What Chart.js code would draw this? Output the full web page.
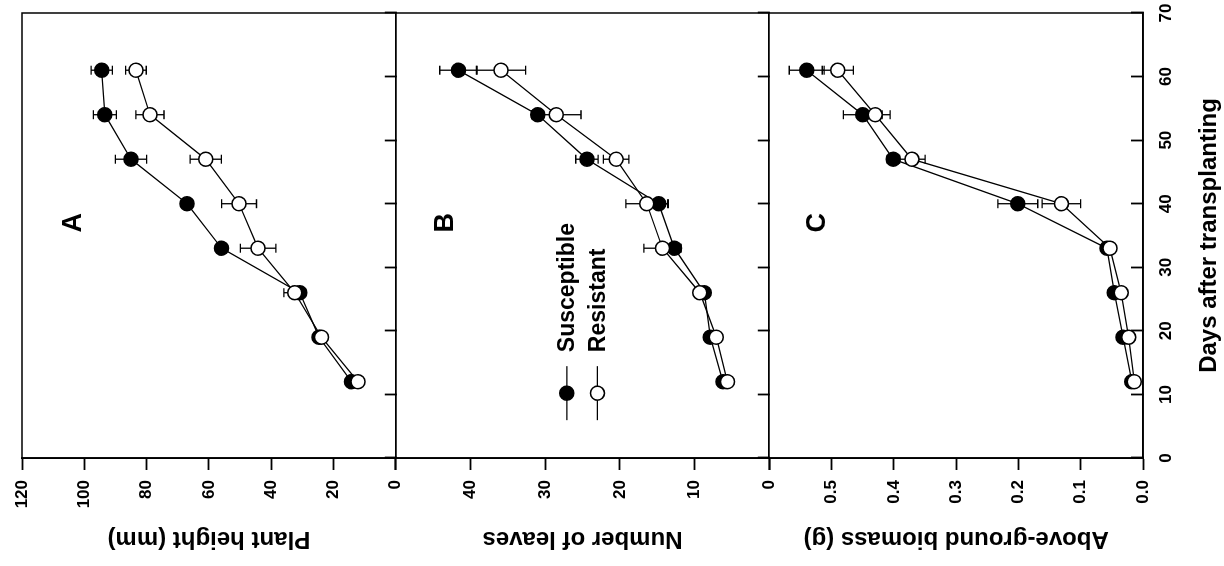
<!DOCTYPE html>
<html>
<head>
<meta charset="utf-8">
<script src="https://cdn.jsdelivr.net/npm/chart.js@4.4.0/dist/chart.umd.min.js"></script>
<style>
  html, body { margin: 0; padding: 0; overflow: hidden; background: #fff; width: 1224px; height: 566px; }
  /* the figure is drawn upright (portrait) and then turned a quarter to the left */
  #wrap { position: absolute; left: 0; top: 0; width: 566px; height: 1224px;
          transform-origin: 0 0; transform: translateY(566px) rotate(-90deg); }
  canvas { display: block; }
</style>
</head>
<body>
<div id="wrap"><canvas id="growthChart" width="566" height="1224"></canvas></div>
<script>
// Days after transplanting (sampling dates)
const days = [12, 19, 26, 33, 40, 47, 54, 61];

// Panel A - plant height (mm)
const heightSusceptible = [14.2, 24.6, 30.8, 55.9, 67.0, 85.0, 93.4, 94.4];
const heightResistant = [12.1, 23.8, 32.4, 44.2, 50.3, 61.0, 78.9, 83.4];
const heightSusceptibleErr = [0.8, 0.8, 1.2, 1.5, 1.8, 5.0, 3.7, 3.4];
const heightResistantErr = [1.0, 1.0, 3.5, 5.7, 5.6, 5.0, 4.5, 3.3];

// Panel B - number of leaves
const leavesSusceptible = [6.2, 7.9, 8.7, 12.7, 14.8, 24.4, 31.0, 41.6];
const leavesResistant = [5.6, 7.1, 9.3, 14.3, 16.4, 20.5, 28.5, 35.9];
const leavesSusceptibleErr = [0.4, 0.4, 0.5, 0.8, 1.3, 1.5, 0.8, 2.5];
const leavesResistantErr = [0.4, 0.4, 0.5, 2.5, 2.8, 1.7, 3.3, 3.3];

// Panel C - above-ground biomass (g)
const biomassSusceptible = [0.018, 0.032, 0.046, 0.058, 0.201, 0.401, 0.450, 0.540];
const biomassResistant = [0.014, 0.023, 0.035, 0.053, 0.131, 0.371, 0.430, 0.490];
const biomassSusceptibleErr = [0.004, 0.004, 0.004, 0.005, 0.032, 0.010, 0.031, 0.028];
const biomassResistantErr = [0.004, 0.004, 0.004, 0.005, 0.031, 0.021, 0.024, 0.025];

const seriesNames = ['Susceptible', 'Resistant'];
const panelLetters = ['A', 'B', 'C'];
const dayTicks = [0, 70, 10];   // min, max, step
const heightTicks = [0, 120, 20];
const leavesTicks = [0, 50, 10];
const biomassTicks = [0, 0.6, 0.1];

Chart.defaults.font.family = '"Liberation Sans", Arial, Helvetica, sans-serif';
Chart.defaults.font.weight = 'bold';
Chart.defaults.color = '#000';

const tickFont = { size: 17, weight: 'bold' };
const titleFont = { size: 24, weight: 'bold' };

function series(label, values, errors, yAxisID, filled) {
    return {
        label: label,
        yAxisID: yAxisID,
        xAxisID: 'x',
        data: days.map((d, i) => ({ x: d, y: values[i] })),
        errors: errors,
        borderColor: '#000',
        borderWidth: 1.3,
        pointRadius: 7,
        pointHoverRadius: 7,
        pointBorderWidth: 1.5,
        pointBackgroundColor: filled ? '#000' : '#fff',
        pointBorderColor: '#000',
        fill: false,
        tension: 0,
        clip: false
    };
}

// value axis of one panel; the top label of B and C is left blank like in the figure
function valueAxis(range, title, digits, hideTop) {
    const [min, max, step] = range;
    return {
        type: 'linear',
        position: 'left',
        stack: 'panels',
        stackWeight: 1,
        min: min,
        max: max,
        ticks: {
            stepSize: step,
            autoSkip: false,
            padding: 10,
            font: tickFont,
            color: '#000',
            callback: v => (hideTop && v > max - step / 2) ? '' : v.toFixed(digits)
        },
        grid: { drawOnChartArea: false, tickLength: 12, tickWidth: 1.8, tickColor: '#000' },
        border: { display: true, color: '#000', width: 1.8 },
        title: { display: true, text: title, font: titleFont, color: '#000', padding: { top: 13, bottom: 0 } },
        afterFit: s => { s.width = 108; }
    };
}

// day ticks along the bottom edge of the upper panels (no labels)
function panelDayAxis(yId) {
    const pos = {};
    pos[yId] = 0;
    return {
        type: 'linear',
        position: pos,
        min: dayTicks[0],
        max: dayTicks[1],
        ticks: { stepSize: dayTicks[2], display: false },
        grid: { drawOnChartArea: false, tickLength: -12, tickWidth: 1.8, tickColor: '#000' },
        border: { display: true, color: '#000', width: 1.8 }
    };
}

// error bars, drawn behind the markers
const errorBars = {
    id: 'errorBars',
    beforeDatasetsDraw(chart) {
        const ctx = chart.ctx;
        ctx.save();
        ctx.strokeStyle = '#000';
        ctx.lineWidth = 1.3;
        chart.data.datasets.forEach(ds => {
            const xs = chart.scales[ds.xAxisID];
            const ys = chart.scales[ds.yAxisID];
            ds.data.forEach((p, i) => {
                const e = ds.errors[i];
                const px = xs.getPixelForValue(p.x);
                const y1 = ys.getPixelForValue(p.y - e);
                const y2 = ys.getPixelForValue(p.y + e);
                ctx.beginPath();
                ctx.moveTo(px, y1); ctx.lineTo(px, y2);
                ctx.moveTo(px - 4.5, y1); ctx.lineTo(px + 4.5, y1);
                ctx.moveTo(px - 4.5, y2); ctx.lineTo(px + 4.5, y2);
                ctx.stroke();
            });
        });
        ctx.restore();
    }
};

// box round the plot area
const frame = {
    id: 'frame',
    afterDraw(chart) {
        const { ctx, chartArea: a } = chart;
        ctx.save();
        ctx.strokeStyle = '#000';
        ctx.lineWidth = 1.5;
        ctx.strokeRect(a.left, a.top, a.right - a.left, a.bottom - a.top);
        ctx.restore();
    }
};

// panel letters and the legend inside panel B
const labels = {
    id: 'labels',
    afterDraw(chart) {
        const ctx = chart.ctx;
        const xs = chart.scales.x;
        ctx.save();
        ctx.fillStyle = '#000';
        ctx.textBaseline = 'middle';
        ctx.textAlign = 'center';
        ctx.font = 'bold 27px "Liberation Sans", Arial, sans-serif';
        const letterY = [103.6, 43.3, 0.523];
        ['yA', 'yB', 'yC'].forEach((id, i) => {
            ctx.fillText(panelLetters[i], xs.getPixelForValue(37), chart.scales[id].getPixelForValue(letterY[i]));
        });

        const legendY = [27.1, 23.0];
        const mx = xs.getPixelForValue(10.2);
        ctx.font = 'bold 23px "Liberation Sans", Arial, sans-serif';
        ctx.textAlign = 'left';
        seriesNames.forEach((name, i) => {
            const my = chart.scales.yB.getPixelForValue(legendY[i]);
            ctx.strokeStyle = '#000';
            ctx.lineWidth = 1.3;
            ctx.beginPath();
            ctx.moveTo(mx - 27, my); ctx.lineTo(mx + 27, my);
            ctx.stroke();
            ctx.beginPath();
            ctx.arc(mx, my, 7, 0, Math.PI * 2);
            ctx.fillStyle = i === 0 ? '#000' : '#fff';
            ctx.fill();
            ctx.lineWidth = 1.5;
            ctx.stroke();
            ctx.fillStyle = '#000';
            ctx.fillText(name, mx + 41, my + 1);
        });
        ctx.restore();
    }
};

const ctx = document.getElementById('growthChart').getContext('2d');
const growthChart = new Chart(ctx, {
    type: 'line',
    data: {
        datasets: [
            series(seriesNames[1], heightResistant, heightResistantErr, 'yA', false),
            series(seriesNames[0], heightSusceptible, heightSusceptibleErr, 'yA', true),
            series(seriesNames[1], leavesResistant, leavesResistantErr, 'yB', false),
            series(seriesNames[0], leavesSusceptible, leavesSusceptibleErr, 'yB', true),
            series(seriesNames[1], biomassResistant, biomassResistantErr, 'yC', false),
            series(seriesNames[0], biomassSusceptible, biomassSusceptibleErr, 'yC', true)
        ]
    },
    options: {
        responsive: false,
        animation: false,
        devicePixelRatio: 1,
        events: [],
        layout: { padding: { top: 22, right: 13, bottom: 0, left: 0 } },
        plugins: { legend: { display: false }, tooltip: { enabled: false } },
        scales: {
            x: {
                type: 'linear',
                position: 'bottom',
                min: dayTicks[0],
                max: dayTicks[1],
                ticks: { stepSize: dayTicks[2], autoSkip: false, padding: 25, maxRotation: 0, font: tickFont, color: '#000' },
                grid: { drawOnChartArea: false, tickLength: -12, tickWidth: 1.8, tickColor: '#000' },
                border: { display: true, color: '#000', width: 1.8 },
                title: { display: true, text: 'Days after transplanting', font: titleFont, color: '#000', padding: { top: 0, bottom: 0 } },
                afterFit: s => {
                    s.height = 81;
                    // the end labels fit inside the layout padding
                    s.paddingLeft = 0;
                    s.paddingRight = 0;
                }
            },
            yC: valueAxis(biomassTicks, 'Above-ground biomass (g)', 1, true),
            yB: valueAxis(leavesTicks, 'Number of leaves', 0, true),
            yA: valueAxis(heightTicks, 'Plant height (mm)', 0, false),
            xA: panelDayAxis('yA'),
            xB: panelDayAxis('yB')
        }
    },
    plugins: [errorBars, frame, labels]
});
</script>
</body>
</html>
